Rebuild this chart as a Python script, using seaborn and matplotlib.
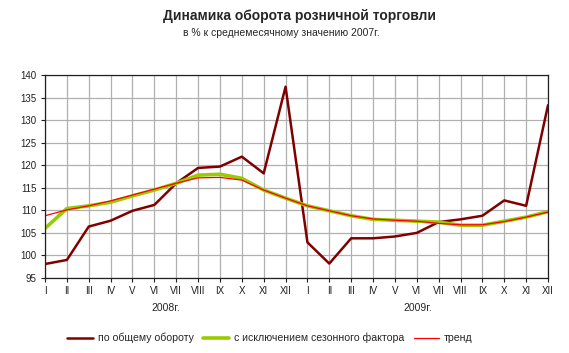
import matplotlib
matplotlib.use("Agg")
import matplotlib.pyplot as plt
import seaborn as sns
import pandas as pd
import numpy as np

months = ["I", "II", "III", "IV", "V", "VI", "VII", "VIII", "IX", "X", "XI", "XII",
          "I", "II", "III", "IV", "V", "VI", "VII", "VIII", "IX", "X", "XI", "XII"]
years = ["2008г.", "2009г."]

total = [98.1, 99.0, 106.4, 107.7, 109.9, 111.2, 116.0, 119.4, 119.7, 121.9, 118.2, 137.4,
         102.9, 98.2, 103.8, 103.8, 104.2, 105.0, 107.4, 108.0, 108.8, 112.2, 111.0, 133.3]
seasonal = [106.0, 110.4, 111.0, 111.8, 113.2, 114.5, 116.0, 117.8, 118.0, 117.1, 114.5, 112.7,
            111.0, 109.9, 108.8, 108.0, 107.8, 107.6, 107.4, 106.7, 106.7, 107.6, 108.5, 109.7]
trend = [108.8, 110.1, 111.0, 112.1, 113.4, 114.7, 116.0, 117.2, 117.3, 116.7, 114.5, 112.7,
         111.0, 109.9, 108.8, 108.1, 107.8, 107.6, 107.1, 106.8, 106.8, 107.5, 108.5, 109.6]

names = ["по общему обороту", "с исключением сезонного фактора", "тренд"]

sns.set_style("white")
plt.rcParams["font.family"] = ["Liberation Sans", "DejaVu Sans"]

idx = np.arange(len(months))
df = pd.DataFrame({"x": idx, names[0]: total, names[1]: seasonal, names[2]: trend})

fig = plt.figure(figsize=(5.69, 3.53), dpi=100)
ax = fig.add_axes([45 / 569, 1 - 278 / 353, (548 - 45) / 569, (278 - 75) / 353])

sns.lineplot(data=df, x="x", y=names[0], ax=ax, color="#800000", linewidth=1.8, label=names[0])
sns.lineplot(data=df, x="x", y=names[1], ax=ax, color="#99CC00", linewidth=2.6, label=names[1])
sns.lineplot(data=df, x="x", y=names[2], ax=ax, color="#FF0000", linewidth=0.9, label=names[2])

ax.set_xlim(0, len(months) - 1)
ax.set_ylim(95, 140)
ax.set_yticks(np.arange(95, 141, 5))
ax.set_xticks(idx)
ax.set_xticklabels(months)
ax.set_xlabel("")
ax.set_ylabel("")
ax.grid(True, color="#b0b0b0", linewidth=0.9)
ax.set_axisbelow(True)
for s in ax.spines.values():
    s.set_color("#202020")
    s.set_linewidth(0.9)
ax.tick_params(axis="both", labelsize=7, length=3, width=0.8, colors="#202020",
               direction="out", bottom=True, left=True)
ax.tick_params(axis="x", pad=3)
ax.tick_params(axis="y", pad=3)

fig.text(166 / 569, 1 - 308 / 353, years[0], fontsize=7.5, ha="center", va="center")
fig.text(418 / 569, 1 - 308 / 353, years[1], fontsize=7.5, ha="center", va="center")

fig.text(0.527, 1 - 16 / 353, "Динамика оборота розничной торговли", fontsize=10,
         fontweight="bold", ha="center", va="center")
fig.text(0.495, 1 - 33 / 353, "в % к среднемесячному значению 2007г.", fontsize=7.5,
         ha="center", va="center")

ax.legend(loc="center", bbox_to_anchor=(270 / 569, 1 - 338 / 353),
          bbox_transform=fig.transFigure, ncol=3, frameon=False, fontsize=7.6,
          handlelength=2.4, columnspacing=0.9, handletextpad=0.5)

fig.savefig("out.png", dpi=100)
